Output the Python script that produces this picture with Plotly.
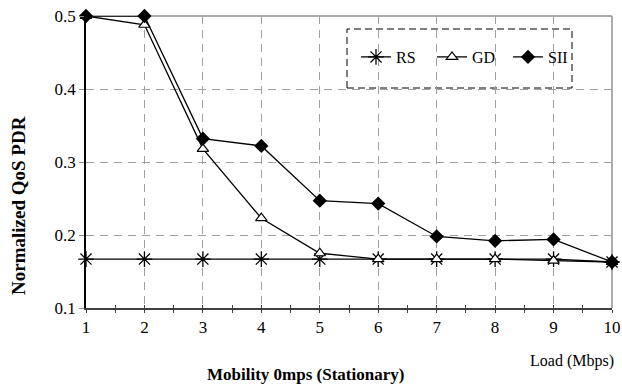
import plotly.graph_objects as go

load = [1, 2, 3, 4, 5, 6, 7, 8, 9, 10]
rs = [0.167, 0.167, 0.167, 0.167, 0.167, 0.167, 0.167, 0.167, 0.167, 0.163]
gd = [0.500, 0.488, 0.318, 0.223, 0.175, 0.167, 0.167, 0.167, 0.165, 0.163]
sii = [0.500, 0.500, 0.332, 0.322, 0.247, 0.243, 0.198, 0.192, 0.194, 0.163]
y_ticks = [0.1, 0.2, 0.3, 0.4, 0.5]

FONT = "Liberation Serif, Times New Roman, Tinos, serif"

W, H = 622, 387
L, R, T, B = 86, 10, 16, 79
PW, PH = W - L - R, H - T - B


def px(xp):
    return (xp - L) / PW


def py(yp):
    return (H - B - yp) / PH


fig = go.Figure()
fig.add_trace(go.Scatter(
    x=load, y=rs, name="RS", mode="lines+markers", cliponaxis=False,
    line=dict(color="black", width=1.3),
    marker=dict(symbol="asterisk-open", size=13, color="black",
                line=dict(color="black", width=1.3)),
))
fig.add_trace(go.Scatter(
    x=load, y=gd, name="GD", mode="lines+markers", cliponaxis=False,
    line=dict(color="black", width=1.3),
    marker=dict(symbol="triangle-up", size=10, color="white",
                line=dict(color="black", width=1.2)),
))
fig.add_trace(go.Scatter(
    x=load, y=sii, name="SII", mode="lines+markers", cliponaxis=False,
    line=dict(color="black", width=1.3),
    marker=dict(symbol="diamond", size=11, color="black",
                line=dict(color="black", width=0)),
))

fig.update_layout(
    width=W, height=H,
    margin=dict(l=L, r=R, t=T, b=B, autoexpand=False),
    paper_bgcolor="white", plot_bgcolor="white",
    font=dict(family=FONT, size=17, color="black"),
    showlegend=True,
    legend=dict(
        orientation="h", x=px(356), y=py(57), xanchor="left", yanchor="middle",
        bgcolor="rgba(0,0,0,0)", borderwidth=0,
        entrywidth=31, entrywidthmode="pixels",
        font=dict(family=FONT, size=16, color="black"),
    ),
    xaxis=dict(
        range=[1, 10], tickvals=load, ticktext=[str(v) for v in load],
        showline=True, linecolor="#404040", linewidth=2,
        ticks="outside", ticklen=3, tickcolor="#404040", tickwidth=1,
        minor=dict(dtick=0.5, tick0=1, ticks="outside", ticklen=3,
                   tickcolor="#404040", showgrid=False),
        showgrid=True, gridcolor="#a0a0a0", gridwidth=1, griddash="8px,6px",
        zeroline=False, tickfont=dict(size=17), ticklabeloverflow="allow",
        automargin=False,
    ),
    xaxis2=dict(
        range=[1, 10], overlaying="x", anchor="y", side="bottom",
        tickvals=load, showticklabels=False, showgrid=False, zeroline=False,
        ticks="inside", ticklen=3, tickcolor="#404040",
        minor=dict(dtick=0.5, tick0=1, ticks="inside", ticklen=3,
                   tickcolor="#404040", showgrid=False),
        automargin=False,
    ),
    yaxis=dict(
        range=[0.1, 0.5], tickvals=y_ticks, tickformat=".1f",
        showline=True, linecolor="black", linewidth=1.5,
        ticks="outside", ticklen=5, tickcolor="#909090",
        showgrid=True, gridcolor="#a0a0a0", gridwidth=1, griddash="8px,6px",
        zeroline=False, tickfont=dict(size=17), ticklabeloverflow="allow",
        automargin=False,
    ),
)

# invisible trace to activate xaxis2
fig.add_trace(go.Scatter(x=[1], y=[0.1], xaxis="x2", mode="markers",
                         marker=dict(opacity=0), showlegend=False,
                         hoverinfo="skip"))

fig.add_shape(type="line", xref="paper", yref="paper", x0=0, x1=1, y0=1, y1=1,
              line=dict(color="#909090", width=1.5), layer="between")
fig.add_shape(type="line", xref="paper", yref="paper", x0=1, x1=1, y0=0, y1=1,
              line=dict(color="#909090", width=1.5), layer="between")
# dashed legend frame
fig.add_shape(type="rect", xref="paper", yref="paper",
              x0=px(347), x1=px(572), y0=py(88), y1=py(29),
              line=dict(color="black", width=1, dash="7px,4px"),
              fillcolor="white", layer="between")

fig.add_annotation(text="<b>Normalized QoS PDR</b>", textangle=-90,
                   xref="paper", yref="paper", xanchor="center", yanchor="middle",
                   x=px(19), y=py(206),
                   showarrow=False, font=dict(family=FONT, size=19))
fig.add_annotation(text="<b>Mobility 0mps (Stationary)</b>",
                   xref="paper", yref="paper", xanchor="center", yanchor="middle",
                   x=px(305), y=py(374),
                   showarrow=False, font=dict(family=FONT, size=17))
fig.add_annotation(text="Load (Mbps)", xref="paper", yref="paper",
                   xanchor="center", yanchor="middle",
                   x=px(572), y=py(361),
                   showarrow=False, font=dict(family=FONT, size=16))

fig.write_html(
    "out.html",
    config={"displayModeBar": False},
    post_script="document.body.style.margin='0';"
                "document.body.style.overflow='hidden';",
)
